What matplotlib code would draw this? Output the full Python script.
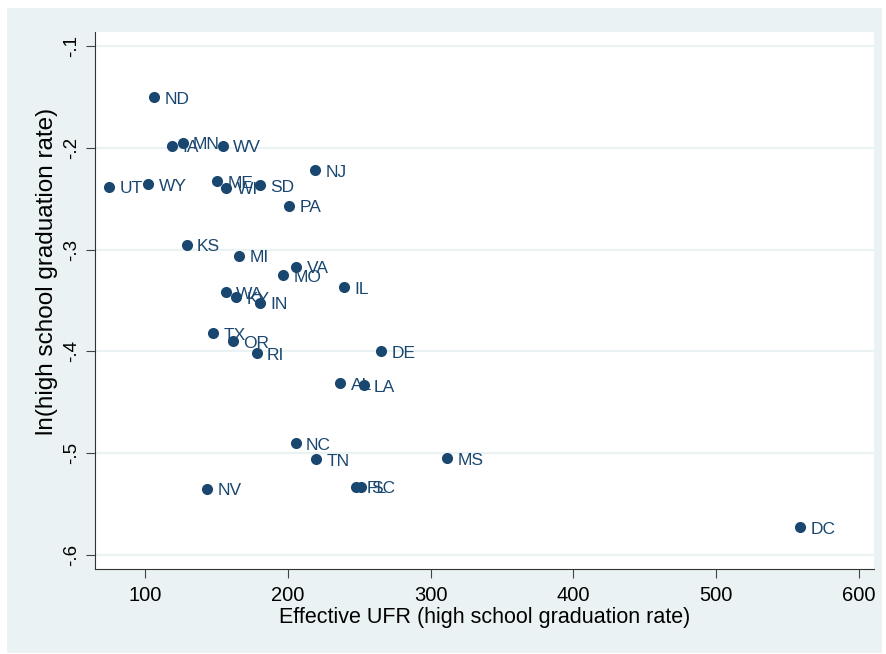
import matplotlib
matplotlib.use("Agg")
import matplotlib.pyplot as plt
from matplotlib.patches import Rectangle

plt.rcParams['font.family'] = ['Liberation Sans', 'DejaVu Sans']

# state, effective UFR, ln(high school graduation rate)
states = ["ND", "IA", "MN", "WV", "NJ", "UT", "WY", "ME", "WI", "SD", "PA",
          "KS", "MI", "VA", "MO", "IL", "WA", "KY", "IN", "TX", "OR", "RI",
          "DE", "AL", "LA", "NC", "TN", "MS", "NV", "FL", "SC", "DC"]
ufr = [106.3, 118.7, 126.3, 154.6, 219.2, 74.6, 102.2, 150.7, 157.0, 180.3,
       200.7, 129.1, 165.8, 205.9, 196.9, 239.5, 156.5, 163.9, 180.5, 147.5,
       161.4, 178.2, 265.4, 236.6, 253.1, 205.5, 219.9, 311.7, 143.6, 248.1,
       251.0, 558.7]
lnrate = [-0.150, -0.198, -0.195, -0.198, -0.222, -0.238, -0.236, -0.233,
          -0.239, -0.237, -0.257, -0.295, -0.306, -0.317, -0.325, -0.337,
          -0.342, -0.347, -0.352, -0.382, -0.390, -0.402, -0.400, -0.431,
          -0.433, -0.490, -0.506, -0.505, -0.535, -0.533, -0.533, -0.573]

xticks = [100, 200, 300, 400, 500, 600]
yticks = [-0.1, -0.2, -0.3, -0.4, -0.5, -0.6]
ytick_labels = ["-.1", "-.2", "-.3", "-.4", "-.5", "-.6"]

navy = "#1a476f"
panel = "#eaf2f3"

fig = plt.figure(figsize=(8.86, 6.54), dpi=100)
fig.patch.set_facecolor("white")
fig.patches.append(Rectangle((7 / 886, 1 / 654), 875 / 886, 645 / 654,
                             transform=fig.transFigure, facecolor=panel,
                             edgecolor="none", zorder=-10))

ax = fig.add_axes([95 / 886, 85 / 654, 779 / 886, 537 / 654])
ax.set_facecolor("white")

ax.scatter(ufr, lnrate, s=64, color=navy, zorder=3, linewidths=0)
for name, x, y in zip(states, ufr, lnrate):
    ax.annotate(name, (x, y), xytext=(7.5, -1.5), textcoords="offset points",
                ha="left", va="center", fontsize=12.5, color=navy, zorder=4)

ax.set_xlim(65, 610.5)
ax.set_ylim(-0.6138, -0.0862)
ax.set_xticks(xticks)
ax.set_yticks(yticks)
ax.set_yticklabels(ytick_labels, rotation=90, va="center")
ax.tick_params(axis="both", length=6.5, width=0.8, color="#444444",
               labelcolor="black")
ax.tick_params(axis="x", labelsize=14.5, pad=6)
ax.tick_params(axis="y", labelsize=13.5, pad=4)

ax.grid(axis="y", color=panel, linewidth=1.6, zorder=0)
ax.set_axisbelow(True)
for side in ["top", "right"]:
    ax.spines[side].set_visible(False)
for side in ["left", "bottom"]:
    ax.spines[side].set_linewidth(0.8)
    ax.spines[side].set_color("#333333")

ax.set_xlabel("Effective UFR (high school graduation rate)", fontsize=15.5,
              labelpad=1)
ax.set_ylabel("ln(high school graduation rate)", fontsize=17.5)
ax.yaxis.set_label_coords(-0.047, 0.555)

fig.savefig("out.png", dpi=100)
